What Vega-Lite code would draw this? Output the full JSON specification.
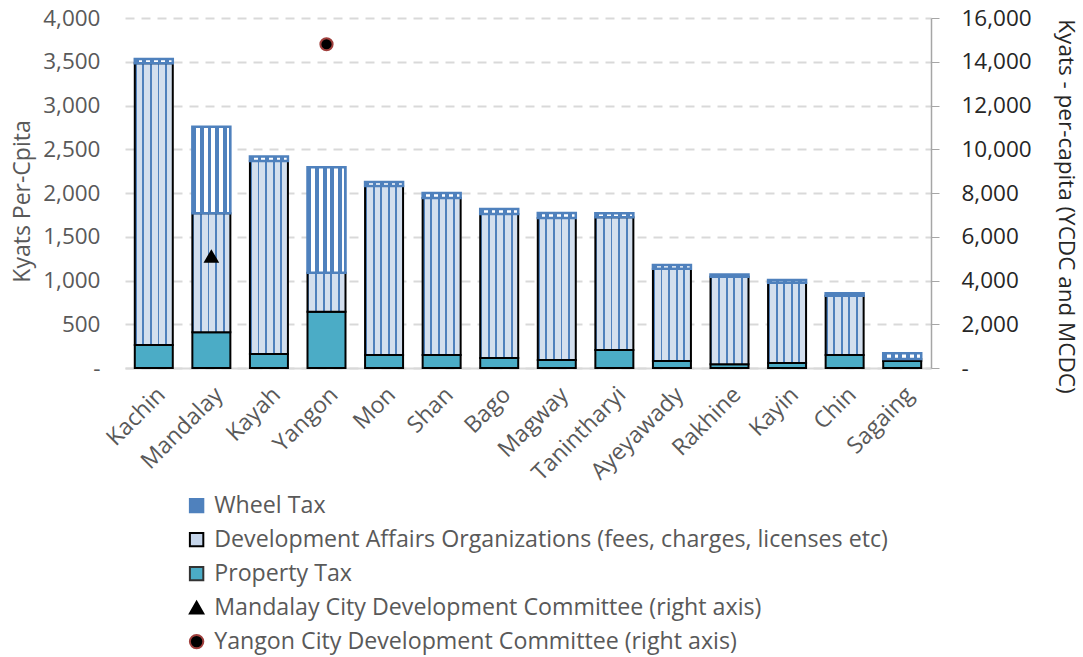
{
  "$schema": "https://vega.github.io/schema/vega-lite/v6.json",
  "width": 806,
  "height": 350,
  "autosize": "none",
  "padding": {"left": 125, "top": 18, "right": 152, "bottom": 289},
  "background": "white",
  "config": {
    "view": {"stroke": null},
    "font": "Open Sans",
    "axis": {"labelFont": "Open Sans", "titleFont": "Open Sans", "labelFontSize": 22.5, "titleFontSize": 23, "labelColor": "#595959", "titleColor": "#595959", "titleFontWeight": "normal"},
    "legend": {"labelFont": "Open Sans", "labelFontSize": 23.2, "labelColor": "#595959", "labelLimit": 1000, "symbolSize": 180, "rowPadding": 10, "symbolStrokeWidth": 2, "labelOffset": 6}
  },
  "layer": [
    {
      "data": {"values": [
        {"region": "Kachin", "property": 263, "dao": 3219, "wheel": 50},
        {"region": "Mandalay", "property": 408, "dao": 1360, "wheel": 990},
        {"region": "Kayah", "property": 160, "dao": 2206, "wheel": 50},
        {"region": "Yangon", "property": 644, "dao": 445, "wheel": 1204},
        {"region": "Mon", "property": 149, "dao": 1931, "wheel": 46},
        {"region": "Shan", "property": 149, "dao": 1794, "wheel": 57},
        {"region": "Bago", "property": 114, "dao": 1646, "wheel": 57},
        {"region": "Magway", "property": 91, "dao": 1623, "wheel": 57},
        {"region": "Tanintharyi", "property": 206, "dao": 1516, "wheel": 46},
        {"region": "Ayeyawady", "property": 80, "dao": 1055, "wheel": 42},
        {"region": "Rakhine", "property": 42, "dao": 1002, "wheel": 26},
        {"region": "Kayin", "property": 57, "dao": 918, "wheel": 31},
        {"region": "Chin", "property": 149, "dao": 678, "wheel": 26},
        {"region": "Sagaing", "property": 80, "dao": 23, "wheel": 65}
      ]},
      "transform": [
        {"fold": ["property", "dao", "wheel"], "as": ["series", "value"]},
        {"stack": "value", "groupby": ["region"], "as": ["y0", "y1"]}
      ],
      "encoding": {
        "x": {"field": "region", "type": "nominal", "sort": null,
          "scale": {"domain": ["Kachin","Mandalay","Kayah","Yangon","Mon","Shan","Bago","Magway","Tanintharyi","Ayeyawady","Rakhine","Kayin","Chin","Sagaing"], "paddingInner": 0.34, "paddingOuter": 0.17},
          "axis": {"title": null, "labelAngle": -45, "labelFontSize": 23, "ticks": false, "domainColor": "#D9D9D9", "domainWidth": 2, "labelPadding": 15}},
        "y": {"field": "y0", "type": "quantitative", "scale": {"domain": [0, 4000]},
          "axis": {"title": "Kyats Per-Cpita", "titleY": 183, "values": [0,500,1000,1500,2000,2500,3000,3500,4000], "format": ",.0f", "labelExpr": "datum.value === 0 ? '-' : datum.label", "domain": false, "ticks": false, "labelPadding": 25, "titlePadding": 8, "grid": true, "gridColor": "#D9D9D9", "gridWidth": 2, "gridDash": [9, 7]}},
        "y2": {"field": "y1"}
      },
      "layer": [
        {
          "transform": [{"filter": "datum.series === 'property'"}],
          "mark": {"type": "bar", "fill": "#4BACC6", "stroke": "black", "strokeWidth": 2}
        },
        {
          "transform": [{"filter": "datum.series === 'dao'"}],
          "mark": {"type": "bar", "stroke": "black", "strokeWidth": 2,
            "fill": {"gradient": "linear", "x1": 0, "x2": 1, "y1": 0, "y2": 0, "stops": [
              {"offset": 0, "color": "#4F81BD"}, {"offset": 0.05, "color": "#4F81BD"},
              {"offset": 0.05, "color": "#D3DFEE"}, {"offset": 0.2, "color": "#D3DFEE"},
              {"offset": 0.2, "color": "#4F81BD"}, {"offset": 0.25, "color": "#4F81BD"},
              {"offset": 0.25, "color": "#D3DFEE"}, {"offset": 0.4, "color": "#D3DFEE"},
              {"offset": 0.4, "color": "#4F81BD"}, {"offset": 0.45, "color": "#4F81BD"},
              {"offset": 0.45, "color": "#D3DFEE"}, {"offset": 0.6, "color": "#D3DFEE"},
              {"offset": 0.6, "color": "#4F81BD"}, {"offset": 0.65, "color": "#4F81BD"},
              {"offset": 0.65, "color": "#D3DFEE"}, {"offset": 0.8, "color": "#D3DFEE"},
              {"offset": 0.8, "color": "#4F81BD"}, {"offset": 0.85, "color": "#4F81BD"},
              {"offset": 0.85, "color": "#D3DFEE"}, {"offset": 1, "color": "#D3DFEE"}
            ]}}
        },
        {
          "transform": [{"filter": "datum.series === 'wheel'"}],
          "mark": {"type": "bar", "stroke": "#4F81BD", "strokeWidth": 2.5,
            "fill": {"gradient": "linear", "x1": 0, "x2": 1, "y1": 0, "y2": 0, "stops": [
              {"offset": 0, "color": "#4F81BD"}, {"offset": 0.1, "color": "#4F81BD"},
              {"offset": 0.1, "color": "white"}, {"offset": 0.2, "color": "white"},
              {"offset": 0.2, "color": "#4F81BD"}, {"offset": 0.3, "color": "#4F81BD"},
              {"offset": 0.3, "color": "white"}, {"offset": 0.4, "color": "white"},
              {"offset": 0.4, "color": "#4F81BD"}, {"offset": 0.5, "color": "#4F81BD"},
              {"offset": 0.5, "color": "white"}, {"offset": 0.6, "color": "white"},
              {"offset": 0.6, "color": "#4F81BD"}, {"offset": 0.7, "color": "#4F81BD"},
              {"offset": 0.7, "color": "white"}, {"offset": 0.8, "color": "white"},
              {"offset": 0.8, "color": "#4F81BD"}, {"offset": 0.9, "color": "#4F81BD"},
              {"offset": 0.9, "color": "white"}, {"offset": 0.97, "color": "white"},
              {"offset": 0.97, "color": "#4F81BD"}, {"offset": 1, "color": "#4F81BD"}
            ]}}
        }
      ]
    },
    {
      "data": {"values": [
        {"region": "Mandalay", "series": "Mandalay City Development Committee (right axis)", "value": 5100},
        {"region": "Yangon", "series": "Yangon City Development Committee (right axis)", "value": 14800}
      ]},
      "mark": {"type": "point", "filled": true, "size": 150, "strokeWidth": 2, "opacity": 1},
      "encoding": {
        "x": {"field": "region", "type": "nominal", "sort": null,
          "scale": {"domain": ["Kachin","Mandalay","Kayah","Yangon","Mon","Shan","Bago","Magway","Tanintharyi","Ayeyawady","Rakhine","Kayin","Chin","Sagaing"]}},
        "y": {"field": "value", "type": "quantitative", "scale": {"domain": [0, 16000]},
          "axis": {"orient": "right", "title": "Kyats - per-capita (YCDC and MCDC)", "titleY": 188, "titleFontSize": 22.5, "titleColor": "#262626", "labelColor": "#262626", "values": [0,2000,4000,6000,8000,10000,12000,14000,16000], "format": ",.0f", "labelExpr": "datum.value === 0 ? '-' : datum.label", "grid": false, "domainColor": "#A6A6A6", "domainWidth": 1.5, "tickColor": "#A6A6A6", "tickSize": 8, "labelPadding": 22, "titlePadding": 22}},
        "fill": {"field": "series", "type": "nominal",
          "scale": {"domain": ["Wheel Tax", "Development Affairs Organizations (fees, charges, licenses etc)", "Property Tax", "Mandalay City Development Committee (right axis)", "Yangon City Development Committee (right axis)"],
            "range": ["#4F81BD", "#C5D5EA", "#4BACC6", "black", "black"]},
          "legend": {"title": null, "orient": "none", "legendX": 60, "legendY": 476}},
        "shape": {"field": "series", "type": "nominal",
          "scale": {"domain": ["Wheel Tax", "Development Affairs Organizations (fees, charges, licenses etc)", "Property Tax", "Mandalay City Development Committee (right axis)", "Yangon City Development Committee (right axis)"],
            "range": ["square", "square", "square", "triangle-up", "circle"]},
          "legend": {"title": null, "orient": "none", "legendX": 60, "legendY": 476}},
        "stroke": {"field": "series", "type": "nominal",
          "scale": {"domain": ["Wheel Tax", "Development Affairs Organizations (fees, charges, licenses etc)", "Property Tax", "Mandalay City Development Committee (right axis)", "Yangon City Development Committee (right axis)"],
            "range": ["#4F81BD", "black", "#333333", "black", "#A0403D"]},
          "legend": {"title": null, "orient": "none", "legendX": 60, "legendY": 476}}
      }
    }
  ],
  "resolve": {"scale": {"y": "independent"}}
}
